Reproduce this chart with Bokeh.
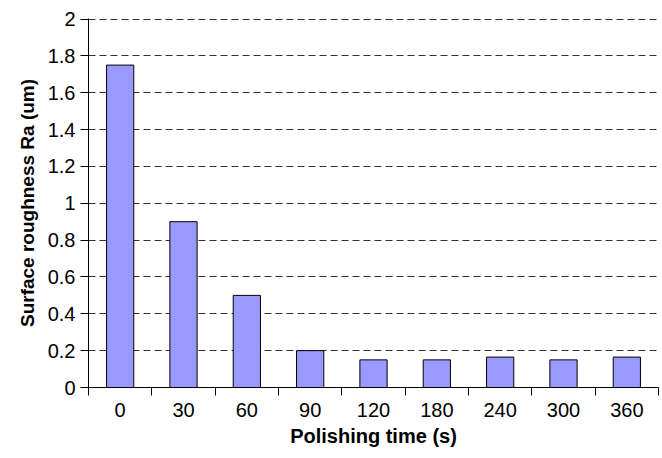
from bokeh.plotting import figure
from bokeh.models import FixedTicker, Range1d, ColumnDataSource
from bokeh.embed import file_html
from bokeh.resources import INLINE

categories = ["0", "30", "60", "90", "120", "180", "240", "300", "360"]
roughness = [1.75, 0.90, 0.50, 0.20, 0.15, 0.15, 0.165, 0.15, 0.165]
y_ticks = [0, 0.2, 0.4, 0.6, 0.8, 1.0, 1.2, 1.4, 1.6, 1.8, 2.0]
y_tick_labels = ["0", "0.2", "0.4", "0.6", "0.8", "1", "1.2", "1.4", "1.6", "1.8", "2"]

n = len(categories)
centers = [i + 0.5 for i in range(n)]
src = ColumnDataSource(dict(x=centers, top=roughness))

p = figure(width=662, height=458, output_backend="svg", toolbar_location=None,
           x_range=Range1d(0, n), y_range=Range1d(0, 2.003),
           min_border_left=88, min_border_right=4, min_border_top=18, min_border_bottom=71)
p.outline_line_color = None
p.background_fill_color = "white"
p.border_fill_color = "white"

p.vbar(x="x", top="top", width=0.43, source=src, fill_color="#9999FF",
       line_color="black", line_width=1)

# x axis
p.xaxis.ticker = FixedTicker(ticks=centers, minor_ticks=list(range(n + 1)))
p.xaxis.major_label_overrides = {c: lab for c, lab in zip(centers, categories)}
p.xaxis.major_tick_line_color = None
p.xaxis.minor_tick_line_color = "black"
p.xaxis.minor_tick_out = 8
p.xaxis.minor_tick_in = 0
p.xaxis.axis_label = "Polishing time (s)"

# y axis
p.yaxis.ticker = FixedTicker(ticks=y_ticks, minor_ticks=[])
p.yaxis.major_label_overrides = {t: lab for t, lab in zip(y_ticks, y_tick_labels)}
p.yaxis.major_tick_out = 8
p.yaxis.major_tick_in = 0
p.yaxis.axis_label = "Surface roughness Ra (um)"

for ax in (p.xaxis, p.yaxis):
    ax.axis_line_color = "black"
    ax.axis_line_width = 1
    ax.major_tick_line_width = 1
    ax.major_label_text_font = "Liberation Sans"
    ax.major_label_text_font_size = "20px"
    ax.major_label_text_color = "black"
    ax.axis_label_text_font = "Liberation Sans"
    ax.axis_label_text_font_style = "bold"
    ax.axis_label_text_color = "black"

p.xaxis.axis_label_text_font_size = "20px"
p.yaxis.axis_label_text_font_size = "19px"
p.xaxis.major_label_standoff = 7
p.xaxis.axis_label_standoff = 5
p.yaxis.major_label_standoff = 5
p.yaxis.axis_label_standoff = 7

p.xgrid.grid_line_color = None
p.ygrid.ticker = FixedTicker(ticks=y_ticks)
p.ygrid.grid_line_color = "#333333"
p.ygrid.grid_line_dash = "7 4"
p.ygrid.grid_line_width = 1

open("out.html", "w").write(file_html(p, INLINE))
